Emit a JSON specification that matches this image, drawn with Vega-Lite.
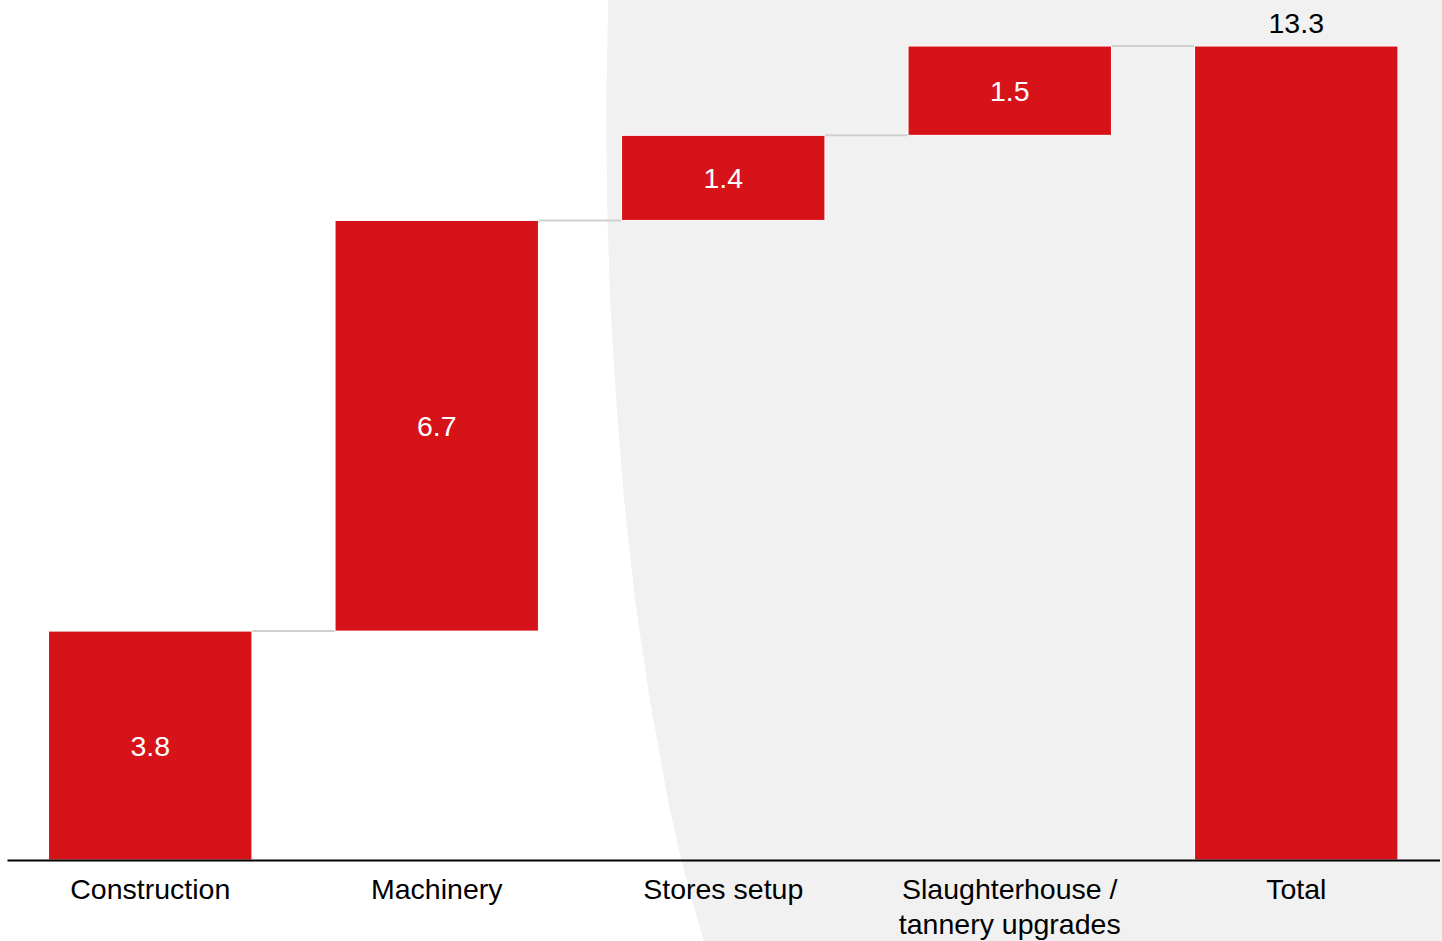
{
  "$schema": "https://vega.github.io/schema/vega-lite/v6.json",
  "width": 1432.5,
  "height": 814,
  "autosize": {"type": "none"},
  "padding": {"left": 7, "top": 46, "right": 2.5, "bottom": 81},
  "background": "white",
  "config": {"view": {"stroke": null}, "font": "Liberation Sans"},
  "datasets": {
    "steps": [
      {"item": "Construction", "start": 0, "end": 3.74, "label": "3.8", "next": "Machinery"},
      {"item": "Machinery", "start": 3.74, "end": 10.45, "label": "6.7", "next": "Stores setup"},
      {"item": "Stores setup", "start": 10.45, "end": 11.84, "label": "1.4", "next": "Slaughterhouse / tannery upgrades"},
      {"item": "Slaughterhouse / tannery upgrades", "start": 11.84, "end": 13.3, "label": "1.5", "next": "Total"},
      {"item": "Total", "start": 0, "end": 13.3, "label": "13.3", "next": null}
    ],
    "backdrop": [
      {"level": 14.2, "edge": 2.099},
      {"level": 12.42, "edge": 2.092},
      {"level": 10.78, "edge": 2.094},
      {"level": 9.15, "edge": 2.105},
      {"level": 7.52, "edge": 2.126},
      {"level": 5.88, "edge": 2.154},
      {"level": 4.25, "edge": 2.192},
      {"level": 2.61, "edge": 2.244},
      {"level": 0.98, "edge": 2.307},
      {"level": 0, "edge": 2.353},
      {"level": -1.4, "edge": 2.436}
    ]
  },
  "layer": [
    {
      "data": {"name": "backdrop"},
      "mark": {"type": "area", "orient": "horizontal", "color": "#f1f1f1", "clip": false, "opacity": 1},
      "encoding": {
        "y": {"field": "level", "type": "quantitative", "scale": {"domain": [0, 13.3], "nice": false, "zero": false}, "axis": null},
        "x": {"field": "edge", "type": "quantitative", "scale": {"domain": [0, 5], "nice": false, "zero": false}, "axis": null},
        "x2": {"datum": 5.05}
      }
    },
    {
      "data": {"name": "steps"},
      "encoding": {
        "x": {
          "field": "item",
          "type": "nominal",
          "sort": null,
          "scale": {
            "domain": ["Construction", "Machinery", "Stores setup", "Slaughterhouse / tannery upgrades", "Total"],
            "paddingInner": 0.29,
            "paddingOuter": 0.145
          },
          "axis": {
            "title": null,
            "zindex": 1,
            "domainColor": "black",
            "domainWidth": 2,
            "ticks": false,
            "tickSize": 0,
            "labelFont": "Liberation Sans",
            "labelFontSize": 28.5,
            "labelColor": "black",
            "labelPadding": 15,
            "labelAngle": 0,
            "labelBaseline": "top",
            "labelLineHeight": 35,
            "labelLimit": 500,
            "labelOverlap": false,
            "labelExpr": "datum.value == 'Slaughterhouse / tannery upgrades' ? ['Slaughterhouse /', 'tannery upgrades'] : datum.value"
          }
        }
      },
      "layer": [
        {
          "transform": [{"filter": "datum.next != null"}],
          "mark": {"type": "rule", "color": "#d0d0d0", "strokeWidth": 2},
          "encoding": {
            "x": {"field": "item", "type": "nominal", "sort": null, "bandPosition": 1},
            "x2": {"field": "next", "bandPosition": 0},
            "y": {"field": "end", "type": "quantitative", "axis": null}
          }
        },
        {
          "mark": {"type": "bar", "color": "#d7131a", "stroke": "white", "strokeWidth": 1},
          "encoding": {
            "y": {"field": "start", "type": "quantitative", "axis": null},
            "y2": {"field": "end"}
          }
        },
        {
          "transform": [
            {"filter": "datum.item != 'Total'"},
            {"calculate": "(datum.start + datum.end) / 2", "as": "mid"}
          ],
          "mark": {"type": "text", "color": "white", "fontSize": 28.5, "baseline": "middle", "align": "center", "dy": 1, "font": "Liberation Sans"},
          "encoding": {
            "y": {"field": "mid", "type": "quantitative", "axis": null},
            "text": {"field": "label"}
          }
        },
        {
          "transform": [{"filter": "datum.item == 'Total'"}],
          "mark": {"type": "text", "color": "black", "fontSize": 28.5, "baseline": "alphabetic", "align": "center", "dy": -13, "font": "Liberation Sans"},
          "encoding": {
            "y": {"field": "end", "type": "quantitative", "axis": null},
            "text": {"field": "label"}
          }
        }
      ]
    }
  ],
  "resolve": {"scale": {"x": "independent"}}
}
